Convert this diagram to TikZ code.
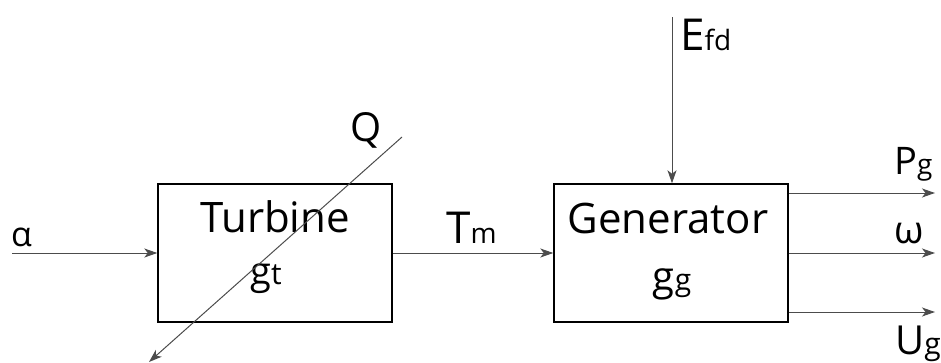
\documentclass[tikz,border=0pt]{standalone}
\usepackage{fontspec}
\setmainfont{Open Sans}
\usetikzlibrary{arrows.meta}
\newcommand{\fsz}[1]{\fontsize{#1}{#1}\selectfont}

\begin{document}
\begin{tikzpicture}[x=1pt,y=-1pt,
  block/.style={draw,line width=1.4pt,minimum width=234pt,minimum height=138pt,inner sep=0pt},
  sig/.style={draw=black!70,line width=1pt,-{Stealth[length=13pt,width=9pt,inset=3.5pt]}},
  lbl/.style={inner sep=0pt,anchor=base west},
  txt/.style={inner sep=0pt,anchor=base}]
  \useasboundingbox (0,0) rectangle (941,362);
  % blocks
  \node[block] (turbine) at (275,253) {};
  \node[block] (generator) at (671,253) {};
  \node[txt] (turbinename) at (275,232) {\fsz{42}Turbine};
  \node[txt] (gt) at (266,284) {\fsz{38}g\fsz{30}t};
  \node[txt] (generatorname) at (668,233) {\fsz{42}Generator};
  \node[txt] (gg) at (672,290) {\fsz{40}g\fsz{30}g};
  % signals
  \coordinate (alphain) at (12,253);
  \coordinate (efdtop) at (672,17);
  \coordinate (qtop) at (402,137);
  \coordinate (qbot) at (149,362);
  \coordinate (pgend) at (935,193);
  \coordinate (omegaend) at (935,253);
  \coordinate (ugend) at (935,312);
  \draw[sig] (alphain) -- (turbine.west);
  \draw[sig] (turbine.east) -- (generator.west);
  \draw[sig] (efdtop) -- (efdtop |- generator.north);
  \draw[sig] (qtop) -- (qbot);
  \draw[sig] (generator.east |- pgend) -- (pgend);
  \draw[sig] (generator.east |- omegaend) -- (omegaend);
  \draw[sig] (generator.east |- ugend) -- (ugend);
  % labels
  \node[lbl] (alpha) at (11,246) {\fsz{34}α};
  \node[lbl] (tm) at (446,243) {\fsz{44}T\fsz{28}m};
  \node[lbl] (q) at (350,141) {\fsz{40}Q};
  \node[lbl] (efd) at (680,50) {\fsz{44}E\fsz{28}fd};
  \node[lbl] (pg) at (894,174) {\fsz{38}P\fsz{28}g};
  \node[lbl] (omega) at (894,243) {\fsz{38}ω};
  \node[lbl] (ug) at (895,354) {\fsz{40}U\fsz{30}g};
\end{tikzpicture}
\end{document}
